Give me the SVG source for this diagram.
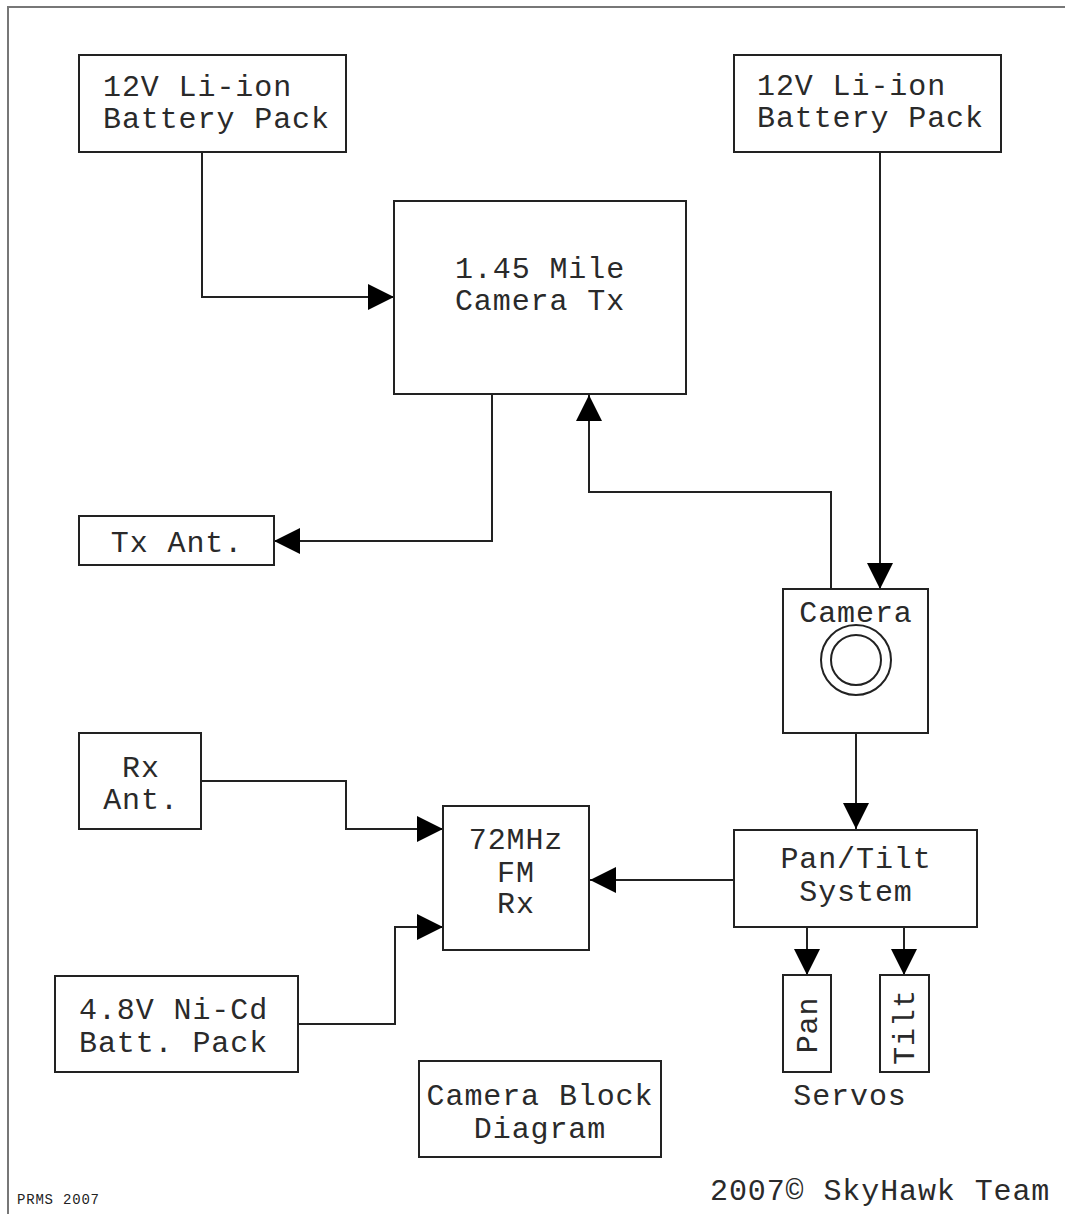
<svg xmlns="http://www.w3.org/2000/svg" width="1065" height="1214" viewBox="0 0 1065 1214">
<style>
.box{fill:#fff;stroke:#222;stroke-width:2}
.wire{fill:none;stroke:#222;stroke-width:2}
.t{font-family:"Liberation Mono","DejaVu Sans Mono",monospace;font-size:30px;letter-spacing:0.9px;fill:#2a2a2a}
.c{text-anchor:middle}
.small{font-family:"Liberation Mono","DejaVu Sans Mono",monospace;font-size:14px;letter-spacing:0.8px;fill:#222}
</style>
<defs>
<marker id="arr" markerUnits="userSpaceOnUse" markerWidth="26" markerHeight="26" viewBox="0 0 24 24" refX="24" refY="12" orient="auto">
<path d="M0,0 L24,12 L0,24 Z" fill="#000"/>
</marker>
</defs>
<rect width="1065" height="1214" fill="#fff"/>
<path d="M8,1214 V7 H1065" fill="none" stroke="#777" stroke-width="2"/>

<g id="connectors">
<path class="wire" d="M202,152 V297 H394" marker-end="url(#arr)"/>
<path class="wire" d="M880,152 V589" marker-end="url(#arr)"/>
<path class="wire" d="M492,394 V541 H274" marker-end="url(#arr)"/>
<path class="wire" d="M831,589 V492 H589 V395" marker-end="url(#arr)"/>
<path class="wire" d="M856,733 V829" marker-end="url(#arr)"/>
<path class="wire" d="M734,880 H590" marker-end="url(#arr)"/>
<path class="wire" d="M201,781 H346 V829 H443" marker-end="url(#arr)"/>
<path class="wire" d="M299,1024 H395 V927 H443" marker-end="url(#arr)"/>
<path class="wire" d="M807,927 V975" marker-end="url(#arr)"/>
<path class="wire" d="M904,927 V975" marker-end="url(#arr)"/>
</g>

<g id="battery1">
<rect class="box" x="79" y="55" width="267" height="97"/>
<text class="t" x="103" y="96">12V Li-ion</text>
<text class="t" x="103" y="128">Battery Pack</text>
</g>
<g id="battery2">
<rect class="box" x="734" y="55" width="267" height="97"/>
<text class="t" x="757" y="95">12V Li-ion</text>
<text class="t" x="757" y="127">Battery Pack</text>
</g>
<g id="camera-tx">
<rect class="box" x="394" y="201" width="292" height="193"/>
<text class="t c" x="540" y="278">1.45 Mile</text>
<text class="t c" x="540" y="310">Camera Tx</text>
</g>
<g id="tx-ant">
<rect class="box" x="79" y="516" width="195" height="49"/>
<text class="t c" x="177" y="552">Tx Ant.</text>
</g>
<g id="camera">
<rect class="box" x="783" y="589" width="145" height="144"/>
<text class="t c" x="856" y="622">Camera</text>
<circle cx="856" cy="660" r="35" fill="none" stroke="#222" stroke-width="2"/>
<circle cx="856" cy="660" r="25" fill="none" stroke="#222" stroke-width="2"/>
</g>
<g id="rx-ant">
<rect class="box" x="79" y="733" width="122" height="96"/>
<text class="t c" x="141" y="777">Rx</text>
<text class="t c" x="141" y="809">Ant.</text>
</g>
<g id="fm-rx">
<rect class="box" x="443" y="806" width="146" height="144"/>
<text class="t c" x="516" y="849">72MHz</text>
<text class="t c" x="516" y="882">FM</text>
<text class="t c" x="516" y="913">Rx</text>
</g>
<g id="pan-tilt">
<rect class="box" x="734" y="830" width="243" height="97"/>
<text class="t c" x="856" y="868">Pan/Tilt</text>
<text class="t c" x="856" y="901">System</text>
</g>
<g id="pan">
<rect class="box" x="783" y="975" width="48" height="97"/>
<text class="t c" x="817" y="1025" transform="rotate(-90 817 1025)">Pan</text>
</g>
<g id="tilt">
<rect class="box" x="880" y="975" width="49" height="97"/>
<text class="t c" x="914" y="1027" transform="rotate(-90 914 1027)">Tilt</text>
</g>
<g id="servos-label">
<text class="t c" x="850" y="1105">Servos</text>
</g>
<g id="nicd">
<rect class="box" x="55" y="976" width="243" height="96"/>
<text class="t" x="79" y="1019">4.8V Ni-Cd</text>
<text class="t" x="79" y="1052">Batt. Pack</text>
</g>
<g id="title">
<rect class="box" x="419" y="1061" width="242" height="96"/>
<text class="t c" x="540" y="1105">Camera Block</text>
<text class="t c" x="540" y="1138">Diagram</text>
</g>
<g id="footer">
<text class="small" x="17" y="1204">PRMS 2007</text>
<text class="t" x="710" y="1200">2007© SkyHawk Team</text>
</g>
</svg>
